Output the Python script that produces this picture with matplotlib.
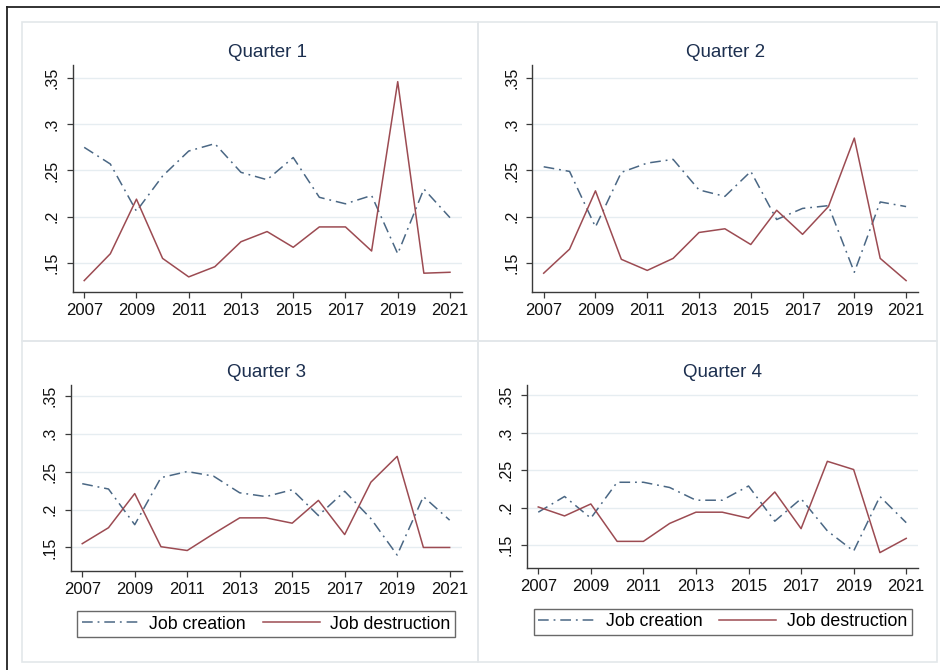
import matplotlib
matplotlib.use("Agg")
import matplotlib.pyplot as plt
from matplotlib.patches import Rectangle
from matplotlib.lines import Line2D

plt.rcParams["font.family"] = ["Liberation Sans", "DejaVu Sans"]

years = list(range(2007, 2022))

creation_q1 = [0.275, 0.257, 0.206, 0.244, 0.271, 0.279, 0.248, 0.240, 0.264,
               0.221, 0.214, 0.223, 0.160, 0.230, 0.199]
destruction_q1 = [0.131, 0.160, 0.219, 0.155, 0.135, 0.146, 0.173, 0.184, 0.167,
                  0.189, 0.189, 0.163, 0.346, 0.139, 0.140]

creation_q2 = [0.254, 0.249, 0.189, 0.248, 0.258, 0.262, 0.229, 0.222, 0.249,
               0.197, 0.209, 0.212, 0.140, 0.216, 0.211]
destruction_q2 = [0.139, 0.165, 0.228, 0.154, 0.142, 0.155, 0.183, 0.187, 0.170,
                  0.207, 0.181, 0.211, 0.285, 0.155, 0.131]

creation_q3 = [0.234, 0.227, 0.180, 0.242, 0.250, 0.244, 0.222, 0.217, 0.226,
               0.192, 0.224, 0.188, 0.140, 0.217, 0.186]
destruction_q3 = [0.155, 0.176, 0.221, 0.151, 0.146, 0.168, 0.189, 0.189, 0.182,
                  0.212, 0.167, 0.236, 0.270, 0.150, 0.150]

creation_q4 = [0.194, 0.215, 0.186, 0.234, 0.234, 0.227, 0.210, 0.210, 0.229,
               0.182, 0.212, 0.169, 0.142, 0.215, 0.180]
destruction_q4 = [0.201, 0.189, 0.205, 0.155, 0.155, 0.179, 0.194, 0.194, 0.186,
                  0.221, 0.172, 0.262, 0.251, 0.140, 0.159]

panel_titles = ["Quarter 1", "Quarter 2", "Quarter 3", "Quarter 4"]
series_labels = ["Job creation", "Job destruction"]
x_ticks = [2007, 2009, 2011, 2013, 2015, 2017, 2019, 2021]
y_ticks = [0.15, 0.2, 0.25, 0.3, 0.35]
y_tick_labels = [".15", ".2", ".25", ".3", ".35"]

creation = [creation_q1, creation_q2, creation_q3, creation_q4]
destruction = [destruction_q1, destruction_q2, destruction_q3, destruction_q4]

W, H = 940, 670
fig = plt.figure(figsize=(W / 100, H / 100), dpi=100)
fig.patch.set_facecolor("white")


def fx(px):
    return px / W


def fy(py):
    return 1 - py / H


# outer frame (top and left edges visible)
fig.add_artist(Line2D([fx(7), fx(7)], [fy(7), fy(670)], color="#222222", lw=1.3))
fig.add_artist(Line2D([fx(7), fx(940)], [fy(7), fy(7)], color="#222222", lw=1.3))

# light panel borders
border_col = "#e3e7ea"
for (x0, y0, x1, y1) in [(22, 22, 478, 341), (478, 22, 937, 341),
                         (22, 341, 478, 662), (478, 341, 937, 662)]:
    fig.add_artist(Rectangle((fx(x0), fy(y1)), fx(x1) - fx(x0), fy(y0) - fy(y1),
                             fill=False, edgecolor=border_col, lw=1.2))

# axes boxes in pixel coordinates: left, top, right, bottom
boxes = [(72.7, 65, 462, 291.7), (532.3, 65, 918, 291.7),
         (70.7, 385, 461.7, 571), (526.7, 385, 918.3, 568.3)]

blue = "#4a6784"
red = "#9c4b52"
dash_dot = (0, (7, 3.2, 1.2, 3.2))

axes = []
for i, (l, t, r, b) in enumerate(boxes):
    ax = fig.add_axes([fx(l), fy(b), fx(r) - fx(l), fy(t) - fy(b)])
    axes.append(ax)
    ax.plot(years, creation[i], color=blue, lw=1.1, linestyle=dash_dot,
            label=series_labels[0])
    ax.plot(years, destruction[i], color=red, lw=1.1, label=series_labels[1])
    ax.set_xlim(2006.56, 2021.46)
    ax.set_ylim(0.119, 0.364)
    ax.set_xticks(x_ticks)
    ax.set_yticks(y_ticks)
    ax.set_yticklabels(y_tick_labels, rotation=90, va="center")
    for s in ["top", "right"]:
        ax.spines[s].set_visible(False)
    for s in ["left", "bottom"]:
        ax.spines[s].set_color("#3a3a3a")
        ax.spines[s].set_linewidth(1.0)
    ax.tick_params(axis="x", direction="out", length=4, width=0.9,
                   color="#3a3a3a", labelcolor="#111111", labelsize=12, pad=4)
    ax.tick_params(axis="y", direction="out", length=4, width=0.9,
                   color="#3a3a3a", labelcolor="#111111", labelsize=11.5, pad=5.5)
    ax.grid(axis="y", color="#e6edf1", lw=1.0)
    ax.set_axisbelow(True)
    ax.set_title(panel_titles[i], fontsize=13.5, color="#1c2f4f", pad=6)

# legends below the bottom panels
legend_boxes = [(77.3, 610.7, 455, 637.7), (534, 606, 911.7, 637.7)]
for ax, (l, t, r, b) in zip(axes[2:], legend_boxes):
    leg = ax.legend(loc="center", ncol=2, mode="expand",
                    bbox_to_anchor=(fx(l), fy(b), fx(r) - fx(l), fy(t) - fy(b)),
                    bbox_transform=fig.transFigure, frameon=True, fancybox=False,
                    fontsize=12.8, handlelength=3.2, handletextpad=0.6,
                    columnspacing=1.0, borderaxespad=0, borderpad=0.25)
    leg.get_frame().set_edgecolor("#444444")
    leg.get_frame().set_linewidth(1.0)

fig.savefig("out.png", dpi=100)
